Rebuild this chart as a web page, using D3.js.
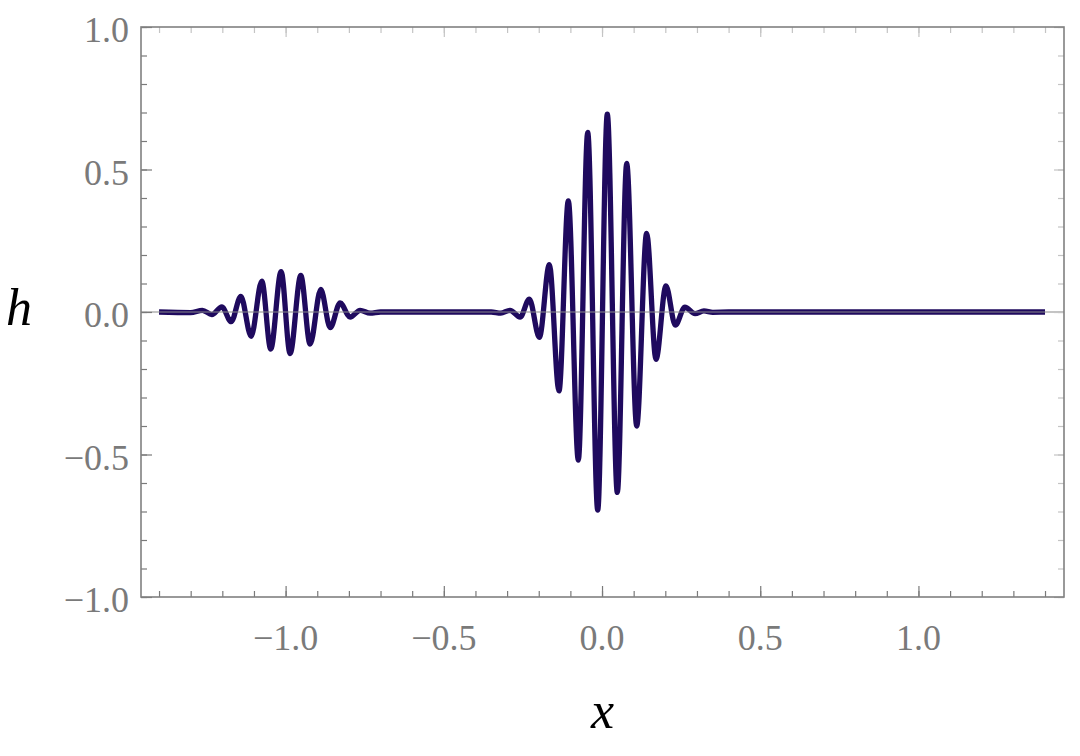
<!DOCTYPE html>
<html>
<head>
<meta charset="utf-8">
<script src="https://cdn.jsdelivr.net/npm/d3@7"></script>
<style>
  body { margin: 0; background: #fff; }
  text { font-family: "Liberation Serif", "DejaVu Serif", serif; }
</style>
</head>
<body>
<div id="chart"></div>
<script>
"use strict";

// wave packet near x = -1 (extrema)
const sidePacketX = [-1.40, -1.30, -1.263, -1.233, -1.2016, -1.172, -1.1415, -1.109, -1.0752, -1.047,
    -1.0142, -0.9858, -0.952, -0.9226, -0.8888, -0.859, -0.8278, -0.796, -0.7646, -0.733, -0.70];
const sidePacketH = [0, -0.002, 0.006, -0.009, 0.018, -0.034, 0.055, -0.085, 0.108, -0.130,
    0.142, -0.146, 0.128, -0.113, 0.079, -0.055, 0.032, -0.018, 0.006, -0.004, 0];

// main wave packet around x = 0
const mainPacketX = [-0.35, -0.32, -0.2907, -0.259, -0.2297, -0.198, -0.1665, -0.136, -0.1065, -0.0749,
    -0.0452, -0.0136, 0.0167, 0.0483, 0.078, 0.1096, 0.141, 0.1706, 0.202, 0.2316,
    0.262, 0.294, 0.322, 0.35, 0.40, 1.40];
const mainPacketH = [0, -0.004, 0.006, -0.018, 0.045, -0.089, 0.166, -0.277, 0.390, -0.520,
    0.630, -0.695, 0.694, -0.633, 0.521, -0.400, 0.276, -0.166, 0.092, -0.046,
    0.017, -0.006, 0.004, -0.001, 0, 0];

const xMajor = [-1.0, -0.5, 0.0, 0.5, 1.0];
const yMajor = [-1.0, -0.5, 0.0, 0.5, 1.0];
const xMinor = d3.range(-14, 15).map(i => i / 10);
const yMinor = d3.range(-10, 11).map(i => i / 10);

let width = 1080, height = 756;
let margin = { top: 27, right: 16, bottom: 159, left: 141 };

let svg = d3.select("#chart")
    .append("svg")
    .attr("width", width)
    .attr("height", height);

let x = d3.scaleLinear()
    .domain([-1.457, 1.46])
    .range([margin.left, width - margin.right]);
let y = d3.scaleLinear()
    .domain([-1, 1])
    .range([height - margin.bottom, margin.top]);

let fmt = d3.format(".1f");
let tickGrey = "#7a7a7a";
let lightGrey = "#c4c4c4";

// Curve
let points = [];
sidePacketX.forEach((v, i) => points.push([v, sidePacketH[i]]));
mainPacketX.forEach((v, i) => points.push([v, mainPacketH[i]]));

let line = d3.line()
    .x(d => x(d[0]))
    .y(d => y(d[1]))
    .curve(d3.curveMonotoneX);

svg.append("path")
    .datum(points)
    .attr("fill", "none")
    .attr("stroke", "#1f0a5e")
    .attr("stroke-width", 5.3)
    .attr("stroke-linejoin", "round")
    .attr("d", line);

// zero axis on top of the curve
svg.append("line")
    .attr("x1", x.range()[0]).attr("x2", x.range()[1])
    .attr("y1", y(0)).attr("y2", y(0))
    .attr("stroke", "#8a8a8a")
    .attr("stroke-width", 1.2);

// Axes (ticks pointing inward)
let addAxis = function (axis, transform, size, values, colour) {
    let g = svg.append("g")
        .attr("transform", transform)
        .call(axis.tickValues(values).tickSize(size).tickFormat(""));
    g.select(".domain").remove();
    g.selectAll(".tick line").attr("stroke", colour).attr("stroke-width", 1.2);
    return g;
};
let bottomY = y.range()[0], topY = y.range()[1];
let leftX = x.range()[0], rightX = x.range()[1];

addAxis(d3.axisBottom(x), `translate(0,${bottomY})`, -6, xMinor, tickGrey);
addAxis(d3.axisBottom(x), `translate(0,${bottomY})`, -11, xMajor, tickGrey);
addAxis(d3.axisTop(x), `translate(0,${topY})`, -6, xMinor, lightGrey);
addAxis(d3.axisTop(x), `translate(0,${topY})`, -10, xMajor, lightGrey);
addAxis(d3.axisLeft(y), `translate(${leftX},0)`, -6, yMinor, tickGrey);
addAxis(d3.axisLeft(y), `translate(${leftX},0)`, -11, yMajor, tickGrey);
addAxis(d3.axisRight(y), `translate(${rightX},0)`, -6, yMinor, lightGrey);
addAxis(d3.axisRight(y), `translate(${rightX},0)`, -10, yMajor, lightGrey);

// Frame
svg.append("rect")
    .attr("x", leftX).attr("y", topY)
    .attr("width", rightX - leftX).attr("height", bottomY - topY)
    .attr("fill", "none")
    .attr("stroke", "#808080")
    .attr("stroke-width", 1.6);

// Tick labels
svg.append("g").selectAll("text")
    .data(xMajor).enter().append("text")
    .attr("x", d => x(d))
    .attr("y", bottomY + 53)
    .attr("text-anchor", "middle")
    .attr("font-size", 36)
    .attr("fill", tickGrey)
    .text(d => fmt(d));

svg.append("g").selectAll("text")
    .data(yMajor).enter().append("text")
    .attr("x", leftX - 12)
    .attr("y", d => y(d) + 15)
    .attr("text-anchor", "end")
    .attr("font-size", 36)
    .attr("fill", tickGrey)
    .text(d => fmt(d));

// Axis titles
svg.append("text")
    .attr("x", (leftX + rightX) / 2)
    .attr("y", 728)
    .attr("text-anchor", "middle")
    .attr("font-size", 52)
    .attr("font-style", "italic")
    .attr("fill", "#000")
    .text("x");

svg.append("text")
    .attr("x", 19)
    .attr("y", 325)
    .attr("text-anchor", "middle")
    .attr("font-size", 52)
    .attr("font-style", "italic")
    .attr("fill", "#000")
    .text("h");
</script>
</body>
</html>
